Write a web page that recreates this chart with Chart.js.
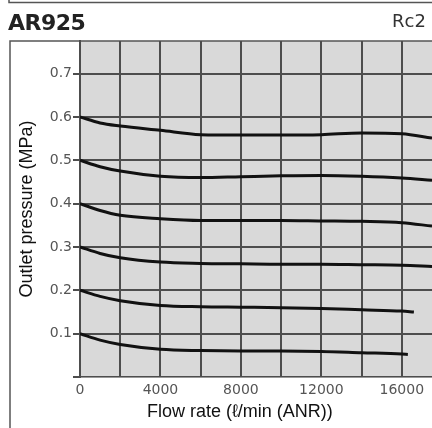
<!DOCTYPE html>
<html>
<head>
<meta charset="utf-8">
<script src="https://cdn.jsdelivr.net/npm/chart.js@4/dist/chart.umd.min.js"></script>
<style>
  html, body { margin: 0; padding: 0; background: #fff; }
  #wrap { position: relative; width: 432px; height: 428px; overflow: hidden; }
  #box { position: absolute; left: 0; top: 0; width: 432px; height: 428px; }
  .hdr { position: absolute; font-family: "DejaVu Sans", sans-serif; color: #222; white-space: nowrap; }
  #model { left: 8px; top: 10px; font-size: 22px; font-weight: bold; letter-spacing: -0.5px; }
  #port { left: 392px; top: 10px; font-size: 18px; color: #333; }
  #xtitle { left: 147px; top: 401px; font-family: "Liberation Sans", Arial, sans-serif; font-size: 18px; color: #111; }
</style>
</head>
<body>
<div id="wrap">
  <div id="box"><canvas id="chart"></canvas></div>
  <div class="hdr" id="model">AR925</div>
  <div class="hdr" id="port">Rc2</div>
  <div class="hdr" id="xtitle">Flow rate (ℓ/min (ANR))</div>
</div>
<script>
// ── DATA ────────────────────────────────────────────────────
const flowRate   = [0, 1000, 2000, 4000, 6000, 8000, 10000, 12000, 14000, 16000, 17500];
const flowRate02 = [0, 1000, 2000, 4000, 6000, 8000, 10000, 12000, 14000, 16000, 16600];
const flowRate01 = [0, 1000, 2000, 4000, 6000, 8000, 10000, 12000, 14000, 16000, 16300];

const p06 = [0.600, 0.586, 0.579, 0.569, 0.559, 0.558, 0.558, 0.559, 0.563, 0.561, 0.551];
const p05 = [0.500, 0.485, 0.475, 0.463, 0.460, 0.462, 0.464, 0.465, 0.463, 0.459, 0.454];
const p04 = [0.400, 0.384, 0.373, 0.365, 0.361, 0.361, 0.361, 0.360, 0.359, 0.356, 0.348];
const p03 = [0.300, 0.285, 0.275, 0.265, 0.262, 0.261, 0.260, 0.260, 0.259, 0.258, 0.255];
const p02 = [0.200, 0.186, 0.176, 0.165, 0.162, 0.161, 0.160, 0.158, 0.155, 0.152, 0.150];
const p01 = [0.100, 0.085, 0.075, 0.064, 0.061, 0.060, 0.060, 0.059, 0.056, 0.053, 0.052];

const xTicks = [0, 2000, 4000, 6000, 8000, 10000, 12000, 14000, 16000];
const xLabelled = [0, 4000, 8000, 12000, 16000];
const yTicks = [0, 0.1, 0.2, 0.3, 0.4, 0.5, 0.6, 0.7];

// ── HELPERS ─────────────────────────────────────────────────
const GRID = '#4d4d4d';
const pts = (xs, ys) => xs.map((x, i) => ({ x, y: ys[i] }));
const curve = (xs, ys) => ({
  data: pts(xs, ys),
  borderColor: '#111',
  borderWidth: 3,
  pointRadius: 0,
  fill: false,
  cubicInterpolationMode: 'monotone'
});

// plot fill + outer frame
const framePlugin = {
  id: 'frame',
  beforeDraw(chart) {
    const { ctx, chartArea: a } = chart;
    ctx.save();
    ctx.fillStyle = '#d9d9d9';
    ctx.fillRect(a.left, a.top, a.right - a.left, a.bottom - a.top);
    ctx.strokeStyle = '#555';
    ctx.lineWidth = 1.5;
    ctx.beginPath();
    // bottom edge of the box above
    ctx.moveTo(9, 0); ctx.lineTo(9, 2.5); ctx.lineTo(432, 2.5);
    // this chart's frame
    ctx.moveTo(10, 428); ctx.lineTo(10, a.top); ctx.lineTo(432, a.top);
    ctx.stroke();
    ctx.restore();
  }
};

new Chart(document.getElementById('chart'), {
  type: 'line',
  data: {
    datasets: [
      curve(flowRate, p06),
      curve(flowRate, p05),
      curve(flowRate, p04),
      curve(flowRate, p03),
      curve(flowRate02, p02),
      curve(flowRate01, p01)
    ]
  },
  options: {
    responsive: true,
    maintainAspectRatio: false,
    animation: false,
    layout: { padding: { top: 41, left: 0, right: 0, bottom: 0 } },
    plugins: { legend: { display: false }, tooltip: { enabled: false } },
    scales: {
      x: {
        type: 'linear',
        min: 0, max: 17500,
        afterBuildTicks: s => { s.ticks = xTicks.map(v => ({ value: v })); },
        afterFit: s => { s.height = 51; },
        grid: { color: GRID, lineWidth: 2, drawTicks: false },
        border: { color: '#999', width: 1 },
        ticks: {
          padding: 5,
          maxRotation: 0,
          autoSkip: false,
          color: '#555',
          font: { family: 'DejaVu Sans', size: 14 },
          callback: v => xLabelled.includes(v) ? String(v) : ''
        }
      },
      y: {
        min: 0, max: 0.775,
        afterBuildTicks: s => { s.ticks = yTicks.map(v => ({ value: v })); },
        afterFit: s => { s.width = 80; },
        grid: { color: GRID, lineWidth: 2, drawTicks: true, tickLength: 7 },
        border: { color: GRID, width: 2 },
        ticks: {
          padding: 1,
          color: '#555',
          font: { family: 'DejaVu Sans', size: 14 },
          callback: v => v === 0 ? '' : v.toFixed(1)
        },
        title: {
          display: true,
          text: 'Outlet pressure (MPa)',
          color: '#111',
          font: { family: 'Liberation Sans', size: 18 },
          padding: { top: 16, bottom: 0 }
        }
      }
    }
  },
  plugins: [framePlugin]
});
</script>
</body>
</html>
